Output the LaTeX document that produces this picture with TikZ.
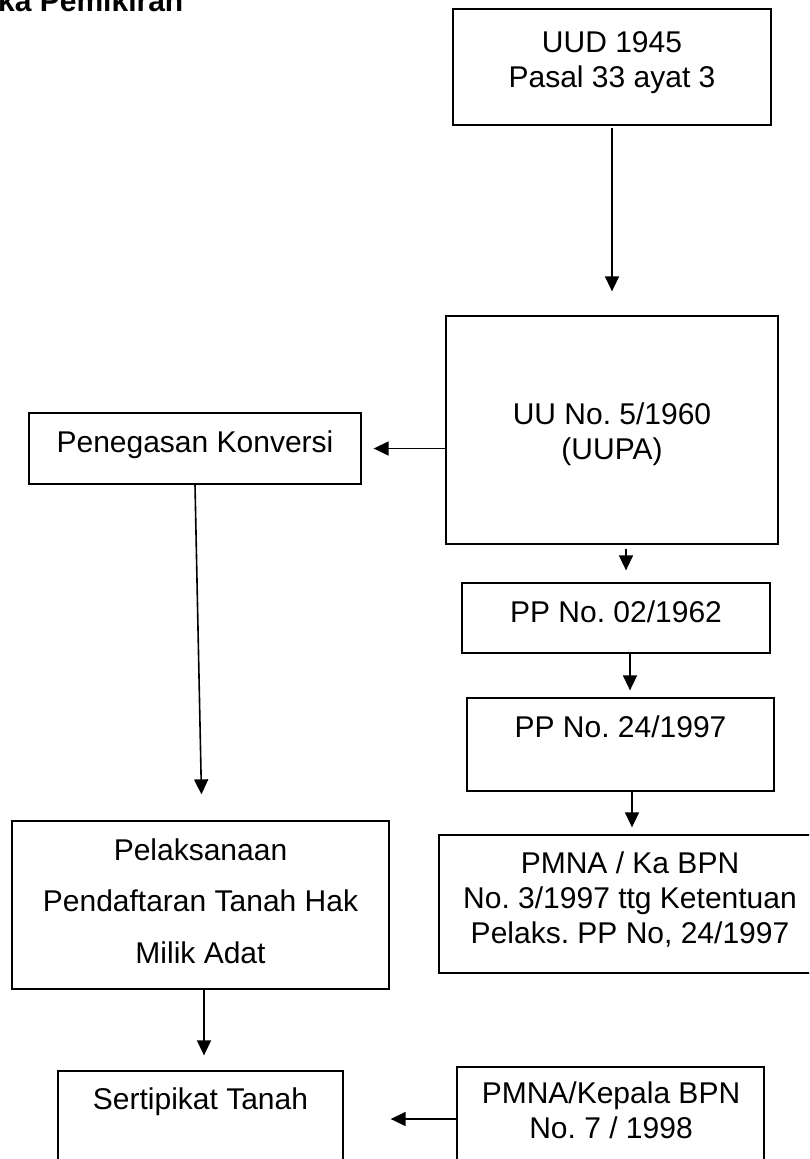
\documentclass[tikz,border=0pt]{standalone}
\usepackage{fontspec}
\setmainfont{Liberation Sans}
\usetikzlibrary{arrows.meta,calc}
\frenchspacing
\begin{document}
\begin{tikzpicture}[x=1pt,y=-1pt,
  box/.style={draw=black,line width=1.3pt,inner sep=0pt,fill=none},
  txt/.style={inner sep=0pt,align=center,font=\fontsize{30}{34.8}\selectfont},
  widetxt/.style={inner sep=0pt,align=center,font=\fontsize{30}{51.5}\selectfont},
  arr/.style={line width=1.6pt,-{Triangle[length=15pt,width=14pt]}}]
\useasboundingbox (0,0) rectangle (809,1159);
\clip (0,0) rectangle (809,1159);

% title
\node[anchor=base west,inner sep=0pt,font=\fontsize{30}{36}\selectfont\bfseries] (title) at (-2,11) {ka Pemikiran};

% boxes
\node[box,minimum width=318pt,minimum height=116pt] (uud)  at (612,67) {};
\node[box,minimum width=332pt,minimum height=228pt] (uupa) at (612,430) {};
\node[box,minimum width=332pt,minimum height=71pt]  (pen)  at (195,448.5) {};
\node[box,minimum width=308pt,minimum height=70pt]  (pp02) at (616,618) {};
\node[box,minimum width=307pt,minimum height=93pt]  (pp24) at (620.5,744.5) {};
\node[box,minimum width=382pt,minimum height=138pt] (pmna) at (630,904) {};
\node[box,minimum width=377pt,minimum height=168pt] (pel)  at (200.5,905) {};
\node[box,minimum width=285pt,minimum height=104pt] (sert) at (200.5,1123) {};
\node[box,minimum width=307pt,minimum height=104pt] (kep)  at (610.5,1119) {};

% texts
\node[txt] (uudT)  at (612,62.4)   {UUD 1945\\Pasal 33 ayat 3};
\node[txt] (uupaT) at (612,433.9)  {UU No. 5/1960\\(UUPA)};
\node[txt] (penT)  at (195,444.4)  {Penegasan Konversi};
\node[txt] (pp02T) at (616,611.4)  {PP No. 02/1962};
\node[txt] (pp24T) at (620.5,726.4) {PP No. 24/1997};
\node[txt] (pmnaT) at (630,899.5)  {PMNA / Ka BPN\\No. 3/1997 ttg Ketentuan\\Pelaks. PP No, 24/1997};
\node[widetxt] (pelT) at (200.5,900.8) {Pelaksanaan\\Pendaftaran Tanah Hak\\Milik Adat};
\node[txt] (sertT) at (200.5,1101.4) {Sertipikat Tanah};
\node[txt] (kepT)  at (611,1110)   {PMNA/Kepala BPN\\No. 7 / 1998};

% connectors
\draw[arr,shorten <=2pt,shorten >=24pt] (uud.south) -- (uupa.north);
\draw[arr,shorten >=12pt] (uupa.west |- pen.east) -- (pen.east);
\draw[arr,shorten <=4pt,shorten >=12pt] ([xshift=14pt]uupa.south) -- ([xshift=14pt]uupa.south |- pp02.north);
\draw[arr,shorten >=7pt] ([xshift=14pt]pp02.south) -- ([xshift=14pt]pp02.south |- pp24.north);
\draw[arr,shorten >=7pt] ([xshift=11.5pt]pp24.south) -- ([xshift=11.5pt]pp24.south |- pmna.north);
\draw[arr,shorten >=26pt] (pen.south) -- ([xshift=1.5pt]pel.north);
\draw[arr,shorten >=15pt] ([xshift=3.5pt]pel.south) -- ([xshift=3.5pt]pel.south |- sert.north);
\draw[arr,shorten >=47pt] (kep.west) -- (sert.east |- kep.west);
\end{tikzpicture}
\end{document}
